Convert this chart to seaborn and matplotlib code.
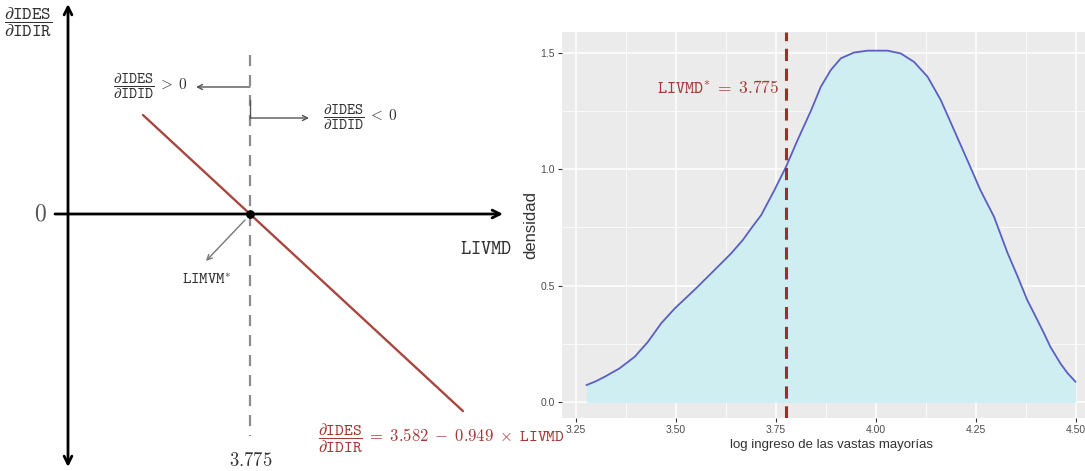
import matplotlib
matplotlib.use("Agg")
import matplotlib.pyplot as plt
import seaborn as sns
import numpy as np
import pandas as pd

# ---------------- data ----------------
# left panel: schematic line dIDES/dIDIR = 3.582 - 0.949 * LIVMD
line_livmd = [3.25, 4.82]
line_deriv = [0.498, -0.992]
livmd_star = 3.775

# right panel: density of log income
dens_x = [3.277, 3.30, 3.323, 3.36, 3.398, 3.431, 3.464, 3.498, 3.547, 3.597,
          3.639, 3.668, 3.689, 3.714, 3.747, 3.776, 3.805, 3.839, 3.863, 3.888,
          3.913, 3.946, 3.98, 4.03, 4.063, 4.096, 4.13, 4.163, 4.196, 4.229,
          4.262, 4.296, 4.33, 4.355, 4.379, 4.396, 4.421, 4.437, 4.462, 4.48, 4.50]
dens_y = [0.074, 0.09, 0.11, 0.146, 0.196, 0.26, 0.339, 0.403, 0.482, 0.567,
          0.639, 0.696, 0.746, 0.803, 0.91, 1.01, 1.125, 1.253, 1.353, 1.425,
          1.475, 1.50, 1.508, 1.508, 1.496, 1.46, 1.396, 1.296, 1.168, 1.04,
          0.91, 0.796, 0.64, 0.54, 0.439, 0.382, 0.296, 0.238, 0.167, 0.125, 0.088]
x_ticks = [3.25, 3.50, 3.75, 4.00, 4.25, 4.50]
x_tick_labels = ["3.25", "3.50", "3.75", "4.00", "4.25", "4.50"]
y_ticks = [0.0, 0.5, 1.0, 1.5]
y_tick_labels = ["0.0", "0.5", "1.0", "1.5"]

# ---------------- style ----------------
sns.set_theme(style="white")
plt.rcParams["font.family"] = ["DejaVu Sans"]
plt.rcParams["mathtext.fontset"] = "cm"
SANS = ["Liberation Sans Narrow", "Liberation Sans", "DejaVu Sans"]

W, H = 1085, 471
fig = plt.figure(figsize=(W / 100, H / 100), dpi=100)

# ---------------- left panel ----------------
SX, SY = 203.8, 198.7   # pixels per data unit
PX0, PY0 = 250, 214     # pixel of (3.775, 0)


def L(px, py):
    return (livmd_star + (px - PX0) / SX, (PY0 - py) / SY)


ax0 = fig.add_axes([0, 0, 540 / W, 1])
xlo, yhi = L(0, 0)
xhi, ylo = L(540, H)
ax0.set_xlim(xlo, xhi)
ax0.set_ylim(ylo, yhi)
ax0.axis("off")

red_line = "#A8473F"
red_text = "#A33A36"

# axes arrows
ax0.annotate("", xy=L(68, 4), xytext=L(68, 467),
             arrowprops=dict(arrowstyle="<->", lw=2.0, color="black",
                             shrinkA=0, shrinkB=0, mutation_scale=14))
ax0.annotate("", xy=L(503, 214), xytext=L(55, 214),
             arrowprops=dict(arrowstyle="->", lw=2.0, color="black",
                             shrinkA=0, shrinkB=0, mutation_scale=14))

# dashed vertical at LIVMD*
ax0.plot([livmd_star, livmd_star], [L(0, 55)[1], L(0, 436)[1]],
         color="#8C8C8C", lw=1.6, ls=(0, (5, 4)), zorder=2)

# red line
sns.lineplot(x=line_livmd, y=line_deriv, ax=ax0, color=red_line, lw=1.7,
             sort=False, zorder=3)

# intersection point
ax0.scatter([livmd_star], [0], s=28, color="black", zorder=6)

# small gray arrows
ax0.annotate("", xy=L(196, 87), xytext=L(250, 87),
             arrowprops=dict(arrowstyle="->", lw=1.0, color="#555555",
                             shrinkA=0, shrinkB=0, mutation_scale=9))
ax0.plot([livmd_star, livmd_star], [L(0, 100)[1], L(0, 118)[1]],
         color="#555555", lw=1.0)
ax0.annotate("", xy=L(309, 118), xytext=L(250, 118),
             arrowprops=dict(arrowstyle="->", lw=1.0, color="#555555",
                             shrinkA=0, shrinkB=0, mutation_scale=9))
ax0.annotate("", xy=L(206, 261), xytext=L(245, 220),
             arrowprops=dict(arrowstyle="->", lw=1.0, color="#777777",
                             shrinkA=0, shrinkB=0, mutation_scale=9))

# texts
ax0.text(*L(113, 87), r"$\dfrac{\partial\mathtt{IDES}}{\partial\mathtt{IDID}}\;>\;0$",
         ha="left", va="center", fontsize=11, color="#333333")
ax0.text(*L(323, 118), r"$\dfrac{\partial\mathtt{IDES}}{\partial\mathtt{IDID}}\;<\;0$",
         ha="left", va="center", fontsize=11, color="#333333")
ax0.text(*L(52, 22), r"$\dfrac{\partial\mathtt{IDES}}{\partial\mathtt{IDIR}}$",
         ha="right", va="center", fontsize=13, color="#333333")
ax0.text(*L(47, 214), r"$0$", ha="right", va="center", fontsize=17, color="#555555")
ax0.text(*L(486, 249), r"$\mathtt{LIVMD}$", ha="center", va="center",
         fontsize=14, color="#333333")
ax0.text(*L(207, 279), r"$\mathtt{LIMVM}^{*}$", ha="center", va="center",
         fontsize=11.5, color="#333333")
ax0.text(*L(251, 460), r"$3.775$", ha="center", va="center",
         fontsize=13.5, color="#333333")
fig.text(318 / W, 1 - 438 / H,
         r"$\dfrac{\partial\mathtt{IDES}}{\partial\mathtt{IDIR}}\;=\;3.582\;-\;0.949\;\times\;\mathtt{LIVMD}$",
         ha="left", va="center", fontsize=12, color=red_text, zorder=10)

# ---------------- right panel ----------------
ax1 = fig.add_axes([562 / W, (H - 418) / H, (1100 - 562) / W, (418 - 32) / H])
ax1.set_facecolor("#EBEBEB")
for s in ax1.spines.values():
    s.set_visible(False)
ax1.set_xlim(3.216, 4.561)
ax1.set_ylim(-0.067, 1.588)

ax1.set_xticks(x_ticks)
ax1.set_xticklabels(x_tick_labels)
ax1.set_yticks(y_ticks)
ax1.set_yticklabels(y_tick_labels)
ax1.set_xticks([3.375, 3.625, 3.875, 4.125, 4.375], minor=True)
ax1.set_yticks([0.25, 0.75, 1.25], minor=True)
ax1.grid(which="major", color="white", lw=1.1)
ax1.grid(which="minor", color="white", lw=0.55)
ax1.set_axisbelow(True)
ax1.tick_params(which="major", length=3, width=0.8, color="#333333",
                labelsize=7.5, labelcolor="#4D4D4D", pad=2,
                bottom=True, left=True)
ax1.tick_params(which="minor", length=0)
for lab in ax1.get_xticklabels() + ax1.get_yticklabels():
    lab.set_family(SANS)

ax1.fill_between(dens_x, 0, dens_y, color="#CFEEF2", lw=0, zorder=1)
sns.lineplot(x=dens_x, y=dens_y, ax=ax1, color="#5A5FC0", lw=1.3, zorder=3)
ax1.axvline(livmd_star, color="#A52A2A", lw=2.2, ls=(0, (4, 2.5)), zorder=4)
ax1.text(3.759, 1.348, r"$\mathtt{LIVMD}^{*}\;=\;3.775$", ha="right", va="center",
         fontsize=12.5, color=red_text, zorder=5)

ax1.set_xlabel("log ingreso de las vastas mayorías", fontsize=9.5,
               color="#333333", family=SANS, labelpad=3)
ax1.set_ylabel("densidad", fontsize=12, color="#333333", family=SANS, labelpad=2)

fig.savefig("out.png", dpi=100)
